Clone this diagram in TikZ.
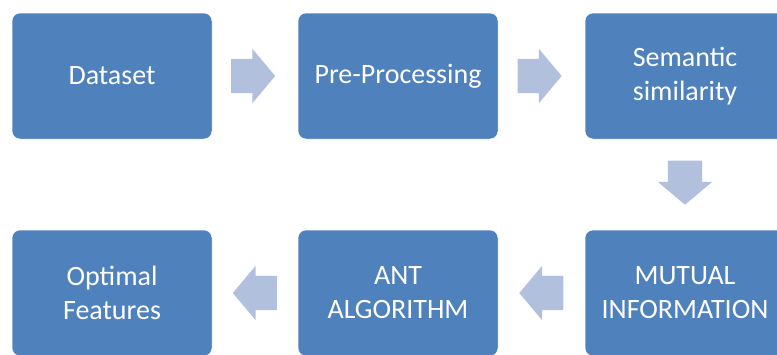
\documentclass[tikz,border=0pt]{standalone}
\usepackage{fontspec}
\setmainfont{Carlito}
\usepackage{tikz}
\usetikzlibrary{shapes.arrows, positioning, calc}
\definecolor{boxblue}{HTML}{4F81BD}
\definecolor{arrowblue}{HTML}{B1C0DC}

\begin{document}
\begin{tikzpicture} [x=1pt, y=-1pt,
  stepbox/.style={fill=boxblue, draw=white, line width=0.5pt, rounded corners=8pt,
    minimum width=200pt, minimum height=126pt, align=center, text=white,
    font=\fontsize{28}{34}\selectfont},
  blockarrow/.style={single arrow, fill=arrowblue, draw=none, inner xsep=0pt,
    inner ysep=17pt, minimum height=44pt, single arrow head extend=10pt,
    single arrow tip angle=100, anchor=tail}]
\useasboundingbox (0,0) rectangle (777,354);

\node[stepbox] (dataset) at (112,76) {Dataset};
\node[stepbox] (prep) at (398,76) {Pre-Processing};
\node[stepbox] (semantic) at (685,76) {Semantic\\similarity};
\node[stepbox] (mutual) at (685,293) {MUTUAL\\INFORMATION};
\node[stepbox] (ant) at (398,293) {ANT\\ALGORITHM};
\node[stepbox] (optimal) at (112,293) {Optimal\\Features};

\node[blockarrow] (a1) at ($(dataset.east)!0.5!(prep.west)+(-24,0)$) {};
\node[blockarrow] (a2) at ($(prep.east)!0.5!(semantic.west)+(-24,0)$) {};
\node[blockarrow, rotate=-90] (a3) at ($(semantic.south)!0.5!(mutual.north)+(0,-24)$) {};
\node[blockarrow, rotate=180] (a4) at ($(mutual.west)!0.5!(ant.east)+(22,0)$) {};
\node[blockarrow, rotate=180] (a5) at ($(ant.west)!0.5!(optimal.east)+(22,0)$) {};
\end{tikzpicture}
\end{document}
